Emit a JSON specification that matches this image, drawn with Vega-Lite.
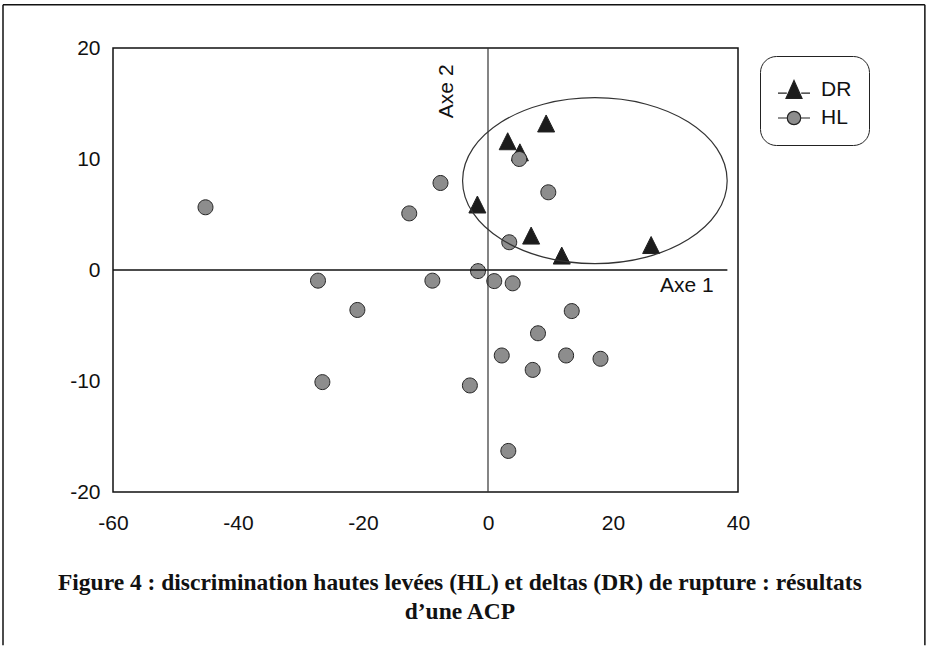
{
  "$schema": "https://vega.github.io/schema/vega-lite/v6.json",
  "width": 625,
  "height": 444,
  "autosize": {"type": "none"},
  "padding": {"left": 113, "top": 48, "right": 189, "bottom": 155},
  "background": "white",
  "config": {
    "view": {"stroke": "#111", "strokeWidth": 1.5},
    "font": "Liberation Sans",
    "axisX": {"title": null, "grid": false, "ticks": false, "domain": false, "labelFontSize": 21, "labelFont": "Liberation Sans", "labelColor": "#111", "labelPadding": 20, "labelFlush": false},
    "axisY": {"title": null, "grid": false, "ticks": false, "domain": false, "labelFontSize": 21, "labelFont": "Liberation Sans", "labelColor": "#111", "labelPadding": 13, "labelFlush": false}
  },
  "resolve": {"scale": {"shape": "independent", "color": "independent"}},
  "datasets": {
    "points": [
      {"x": 9.3, "y": 13.2, "group": "DR"},
      {"x": 3.15, "y": 11.6, "group": "DR"},
      {"x": 5.1, "y": 10.6, "group": "DR"},
      {"x": -1.7, "y": 5.9, "group": "DR"},
      {"x": 6.9, "y": 3.1, "group": "DR"},
      {"x": 11.8, "y": 1.3, "group": "DR"},
      {"x": 26.1, "y": 2.25, "group": "DR"},
      {"x": -45.2, "y": 5.65, "group": "HL"},
      {"x": -7.6, "y": 7.84, "group": "HL"},
      {"x": -12.6, "y": 5.1, "group": "HL"},
      {"x": -27.2, "y": -0.96, "group": "HL"},
      {"x": -8.9, "y": -0.96, "group": "HL"},
      {"x": -20.9, "y": -3.6, "group": "HL"},
      {"x": -26.5, "y": -10.1, "group": "HL"},
      {"x": -2.9, "y": -10.4, "group": "HL"},
      {"x": -1.6, "y": -0.1, "group": "HL"},
      {"x": 1.0, "y": -1.0, "group": "HL"},
      {"x": 3.95, "y": -1.2, "group": "HL"},
      {"x": 13.4, "y": -3.7, "group": "HL"},
      {"x": 8.0, "y": -5.7, "group": "HL"},
      {"x": 2.2, "y": -7.7, "group": "HL"},
      {"x": 12.5, "y": -7.7, "group": "HL"},
      {"x": 18.0, "y": -8.0, "group": "HL"},
      {"x": 7.15, "y": -9.0, "group": "HL"},
      {"x": 3.25, "y": -16.3, "group": "HL"},
      {"x": 5.0, "y": 10.0, "group": "HL"},
      {"x": 9.65, "y": 7.0, "group": "HL"},
      {"x": 3.4, "y": 2.5, "group": "HL"}
    ]
  },
  "layer": [
    {
      "data": {"name": "points"},
      "mark": {"type": "point", "filled": true, "opacity": 1, "size": 289, "stroke": "#222", "strokeWidth": 1},
      "encoding": {
        "x": {
          "field": "x", "type": "quantitative",
          "scale": {"domain": [-60, 40], "nice": false, "zero": false},
          "axis": {"values": [-60, -40, -20, 0, 20, 40], "labelExpr": "'' + datum.value"}
        },
        "y": {
          "field": "y", "type": "quantitative",
          "scale": {"domain": [-20, 20], "nice": false, "zero": false},
          "axis": {"values": [-20, -10, 0, 10, 20], "labelExpr": "'' + datum.value"}
        },
        "shape": {
          "field": "group", "type": "nominal",
          "scale": {"domain": ["DR", "HL"], "range": ["M0,-1L-1,1L1,1Z", "M-0.88,0A0.88,0.88 0 1,1 0.88,0A0.88,0.88 0 1,1 -0.88,0Z"]},
          "legend": null
        },
        "color": {
          "field": "group", "type": "nominal",
          "scale": {"domain": ["DR", "HL"], "range": ["#1c1c1c", "#8d8d8d"]},
          "legend": null
        }
      }
    },
    {
      "data": {"name": "points"},
      "transform": [{"filter": "datum.x > 1000"}],
      "mark": {"type": "point", "filled": true, "opacity": 1, "stroke": "#222", "strokeWidth": 1.2},
      "encoding": {
        "x": {"field": "x", "type": "quantitative", "axis": {"values": [-60, -40, -20, 0, 20, 40], "labelExpr": "'' + datum.value"}},
        "y": {"field": "y", "type": "quantitative", "axis": {"values": [-20, -10, 0, 10, 20], "labelExpr": "'' + datum.value"}},
        "shape": {
          "field": "group", "type": "nominal",
          "scale": {"domain": ["DR", "HL"], "range": ["M-1,0.2L-0.45,0.2M0.45,0.2L1,0.2M0,-0.6L-0.5,0.52L0.5,0.52Z", "M-1,0L-0.42,0M0.42,0L1,0M-0.42,0A0.42,0.42 0 1,1 0.42,0A0.42,0.42 0 1,1 -0.42,0Z"]},
          "legend": {
            "orient": "none", "legendX": 647, "legendY": 8, "title": null,
            "strokeColor": "#222", "cornerRadius": 16, "padding": 17, "fillColor": "white",
            "labelFont": "Liberation Sans", "labelFontSize": 21, "labelColor": "#111",
            "labelOffset": 10, "rowPadding": 0, "symbolSize": 1024, "symbolStrokeWidth": 1.2, "symbolStrokeColor": "#222"
          }
        },
        "color": {
          "field": "group", "type": "nominal",
          "scale": {"domain": ["DR", "HL"], "range": ["#1c1c1c", "#8d8d8d"]},
          "legend": {
            "orient": "none", "legendX": 647, "legendY": 8, "title": null,
            "strokeColor": "#222", "cornerRadius": 16, "padding": 17, "fillColor": "white",
            "labelFont": "Liberation Sans", "labelFontSize": 21, "labelColor": "#111",
            "labelOffset": 10, "rowPadding": 0, "symbolSize": 1024, "symbolStrokeWidth": 1.2, "symbolStrokeColor": "#222"
          }
        }
      }
    },
    {
      "data": {"values": [{}]},
      "mark": {"type": "rule", "color": "#111", "strokeWidth": 1.5},
      "encoding": {
        "x": {"datum": -77.6, "type": "quantitative", "axis": {"values": [-60, -40, -20, 0, 20, 40], "labelExpr": "'' + datum.value"}},
        "y": {"datum": 23.9, "type": "quantitative", "axis": {"values": [-20, -10, 0, 10, 20], "labelExpr": "'' + datum.value"}},
        "y2": {"datum": -33.8}
      }
    },
    {
      "data": {"values": [{}]},
      "mark": {"type": "rule", "color": "#111", "strokeWidth": 1.5},
      "encoding": {
        "x": {"datum": 69.9, "type": "quantitative", "axis": {"values": [-60, -40, -20, 0, 20, 40], "labelExpr": "'' + datum.value"}},
        "y": {"datum": 23.9, "type": "quantitative", "axis": {"values": [-20, -10, 0, 10, 20], "labelExpr": "'' + datum.value"}},
        "y2": {"datum": -33.8}
      }
    },
    {
      "data": {"values": [{}]},
      "mark": {"type": "rule", "color": "#111", "strokeWidth": 1.5},
      "encoding": {
        "x": {"datum": -77.6, "type": "quantitative", "axis": {"values": [-60, -40, -20, 0, 20, 40], "labelExpr": "'' + datum.value"}},
        "x2": {"datum": 69.9},
        "y": {"datum": 23.9, "type": "quantitative", "axis": {"values": [-20, -10, 0, 10, 20], "labelExpr": "'' + datum.value"}}
      }
    },
    {
      "data": {"values": [{}]},
      "mark": {"type": "rule", "color": "#111", "strokeWidth": 1.5},
      "encoding": {
        "x": {"datum": -60, "type": "quantitative", "axis": {"values": [-60, -40, -20, 0, 20, 40], "labelExpr": "'' + datum.value"}},
        "x2": {"datum": 38.3},
        "y": {"datum": 0, "type": "quantitative", "axis": {"values": [-20, -10, 0, 10, 20], "labelExpr": "'' + datum.value"}}
      }
    },
    {
      "data": {"values": [{}]},
      "mark": {"type": "rule", "color": "#333", "strokeWidth": 1.2},
      "encoding": {
        "x": {"datum": 0, "type": "quantitative", "axis": {"values": [-60, -40, -20, 0, 20, 40], "labelExpr": "'' + datum.value"}},
        "y": {"datum": 20, "type": "quantitative", "axis": {"values": [-20, -10, 0, 10, 20], "labelExpr": "'' + datum.value"}},
        "y2": {"datum": -20}
      }
    },
    {
      "data": {"values": [{"cx": 17.1, "cy": 8.05}]},
      "mark": {"type": "point", "filled": false, "stroke": "#333", "strokeWidth": 1.2, "opacity": 1, "size": 70013, "shape": "M-1,0A1,0.627 0 1,1 1,0A1,0.627 0 1,1 -1,0Z"},
      "encoding": {
        "x": {"field": "cx", "type": "quantitative", "axis": {"values": [-60, -40, -20, 0, 20, 40], "labelExpr": "'' + datum.value"}},
        "y": {"field": "cy", "type": "quantitative", "axis": {"values": [-20, -10, 0, 10, 20], "labelExpr": "'' + datum.value"}}
      }
    },
    {
      "data": {"values": [{"label": "Axe 1", "x": 31.8, "y": -1.4}]},
      "mark": {"type": "text", "font": "Liberation Sans", "fontSize": 21, "color": "#111", "align": "center", "baseline": "middle"},
      "encoding": {
        "x": {"field": "x", "type": "quantitative", "axis": {"values": [-60, -40, -20, 0, 20, 40], "labelExpr": "'' + datum.value"}},
        "y": {"field": "y", "type": "quantitative", "axis": {"values": [-20, -10, 0, 10, 20], "labelExpr": "'' + datum.value"}},
        "text": {"field": "label"}
      }
    },
    {
      "data": {"values": [{"label": "Axe 2", "x": -6.6, "y": 16.1}]},
      "mark": {"type": "text", "font": "Liberation Sans", "fontSize": 21, "color": "#111", "align": "center", "baseline": "middle", "angle": 270},
      "encoding": {
        "x": {"field": "x", "type": "quantitative", "axis": {"values": [-60, -40, -20, 0, 20, 40], "labelExpr": "'' + datum.value"}},
        "y": {"field": "y", "type": "quantitative", "axis": {"values": [-20, -10, 0, 10, 20], "labelExpr": "'' + datum.value"}},
        "text": {"field": "label"}
      }
    },
    {
      "data": {"values": [{"line1": "Figure  4 : discrimination hautes levées (HL) et deltas (DR) de rupture : résultats", "line2": "d’une ACP", "x": -4.5, "y": -27.1}]},
      "mark": {"type": "text", "font": "Liberation Serif", "fontSize": 23.5, "fontWeight": "bold", "color": "#111", "align": "center", "baseline": "top", "lineHeight": 29},
      "encoding": {
        "x": {"field": "x", "type": "quantitative", "axis": {"values": [-60, -40, -20, 0, 20, 40], "labelExpr": "'' + datum.value"}},
        "y": {"field": "y", "type": "quantitative", "axis": {"values": [-20, -10, 0, 10, 20], "labelExpr": "'' + datum.value"}},
        "text": {"value": {"expr": "[datum.line1, datum.line2]"}}
      }
    }
  ]
}
